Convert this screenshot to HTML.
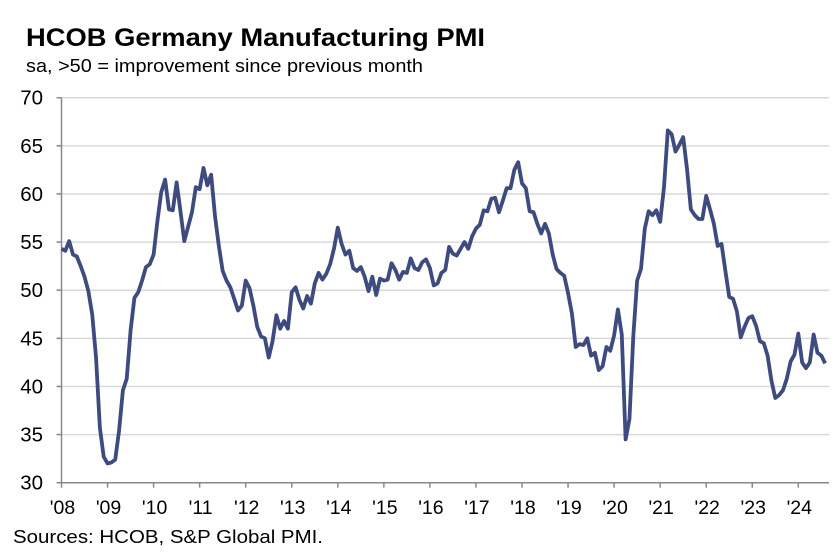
<!DOCTYPE html>
<html><head><meta charset="utf-8"><style>
body{margin:0;background:#fff;}
svg{display:block;font-family:"Liberation Sans",Arial,sans-serif;}
</style></head><body>
<svg width="839" height="554" id="chart">
<text x="26" y="46" font-size="25" font-weight="bold" fill="#000" textLength="459" lengthAdjust="spacingAndGlyphs">HCOB Germany Manufacturing PMI</text>
<text x="26" y="72" font-size="18" fill="#000" textLength="397" lengthAdjust="spacingAndGlyphs">sa, &gt;50 = improvement since previous month</text>
<text x="13" y="543" font-size="18" fill="#000" textLength="310" lengthAdjust="spacingAndGlyphs">Sources: HCOB, S&amp;P Global PMI.</text>
<g id="grid"></g>
<g id="axes"></g>
<path id="line" fill="none" stroke="#3e4b7e" stroke-width="3.8" stroke-linejoin="round"></path>
</svg>
<script>
const yTicks=[30,35,40,45,50,55,60,65,70];
const yearLabels=["'08","'09","'10","'11","'12","'13","'14","'15","'16","'17","'18","'19","'20","'21","'22","'23","'24"];
const pmi2008=[54.3,54.1,55.1,53.7,53.5,52.5,51.4,49.9,47.5,43.0,35.7,32.7];
const pmi2009=[32.0,32.1,32.4,35.4,39.6,40.8,45.8,49.2,49.8,51.0,52.4,52.7];
const pmi2010=[53.7,57.2,60.2,61.5,58.4,58.3,61.2,58.2,55.1,56.6,58.1,60.7];
const pmi2011=[60.5,62.7,60.9,62.0,57.7,54.6,52.0,51.0,50.3,49.1,47.9,48.4];
const pmi2012=[51.0,50.2,48.4,46.2,45.2,45.0,43.0,44.7,47.4,46.0,46.8,46.0];
const pmi2013=[49.8,50.3,49.0,48.1,49.4,48.6,50.7,51.8,51.1,51.7,52.7,54.3];
const pmi2014=[56.5,54.8,53.7,54.1,52.3,52.0,52.4,51.4,49.9,51.4,49.5,51.2];
const pmi2015=[51.0,51.1,52.8,52.1,51.1,51.9,51.8,53.3,52.3,52.1,52.9,53.2];
const pmi2016=[52.3,50.5,50.7,51.8,52.1,54.5,53.8,53.6,54.3,55.0,54.3,55.6];
const pmi2017=[56.4,56.8,58.3,58.2,59.5,59.6,58.1,59.3,60.6,60.6,62.5,63.3];
const pmi2018=[61.1,60.6,58.2,58.1,56.9,55.9,56.9,55.9,53.7,52.2,51.8,51.5];
const pmi2019=[49.7,47.6,44.1,44.4,44.3,45.0,43.2,43.5,41.7,42.1,44.1,43.7];
const pmi2020=[45.3,48.0,45.4,34.5,36.6,45.2,51.0,52.2,56.4,58.2,57.8,58.3];
const pmi2021=[57.1,60.7,66.6,66.2,64.4,65.1,65.9,62.6,58.4,57.8,57.4,57.4];
const pmi2022=[59.8,58.4,56.9,54.6,54.8,52.0,49.3,49.1,47.8,45.1,46.2,47.1];
const pmi2023=[47.3,46.3,44.7,44.5,43.2,40.6,38.8,39.1,39.6,40.8,42.6,43.3];
const pmi2024=[45.5,42.5,41.9,42.5,45.4,43.5,43.2,42.4];
const pmi=[].concat(pmi2008,pmi2009,pmi2010,pmi2011,pmi2012,pmi2013,pmi2014,pmi2015,pmi2016,pmi2017,pmi2018,pmi2019,pmi2020,pmi2021,pmi2022,pmi2023,pmi2024);

const NS="http://www.w3.org/2000/svg";
const x0=61.5, yearW=46.05, xEnd=829;
const yTop=97.7, yBot=482.7, yMin=30, yMax=70;
function xS(m){return x0+m*yearW/12;}
function yS(v){return yBot-(v-yMin)/(yMax-yMin)*(yBot-yTop);}
function mk(tag,attrs,parent){const e=document.createElementNS(NS,tag);for(const k in attrs)e.setAttribute(k,attrs[k]);parent.appendChild(e);return e;}
const grid=document.getElementById('grid'), axes=document.getElementById('axes');
yTicks.forEach(t=>{
  if(t>yMin){const g=mk('line',{x1:x0,x2:xEnd,y1:yS(t),y2:yS(t),stroke:'#d9d9d9','stroke-width':1.5},grid);
  
  }
  const tk=mk('line',{x1:x0-5,x2:x0,y1:yS(t),y2:yS(t),stroke:'#888','stroke-width':1.5},axes);
  
  
  const lb=mk('text',{x:43,y:yS(t)+7,'font-size':20.5,'text-anchor':'end',fill:'#000'},axes);
  lb.textContent=t;
  
  
});
const ya=mk('line',{x1:x0,x2:x0,y1:yTop,y2:yBot,stroke:'#888','stroke-width':1.5},axes);


const xa=mk('line',{x1:x0,x2:xEnd,y1:yBot,y2:yBot,stroke:'#888','stroke-width':1.5},axes);


yearLabels.forEach((l,i)=>{
  const x=xS(i*12);
  const tk=mk('line',{x1:x,x2:x,y1:yBot,y2:yBot+5,stroke:'#888','stroke-width':1.5},axes);
  
  
  const lb=mk('text',{x:x+1,y:514,'font-size':19.5,'text-anchor':'middle',fill:'#000'},axes);
  lb.textContent=l;
  
  
});
document.getElementById('line').setAttribute('d',pmi.map((v,i)=>(i?'L':'M')+xS(i).toFixed(2)+','+yS(v).toFixed(2)).join(''));
</script>
</body></html>
